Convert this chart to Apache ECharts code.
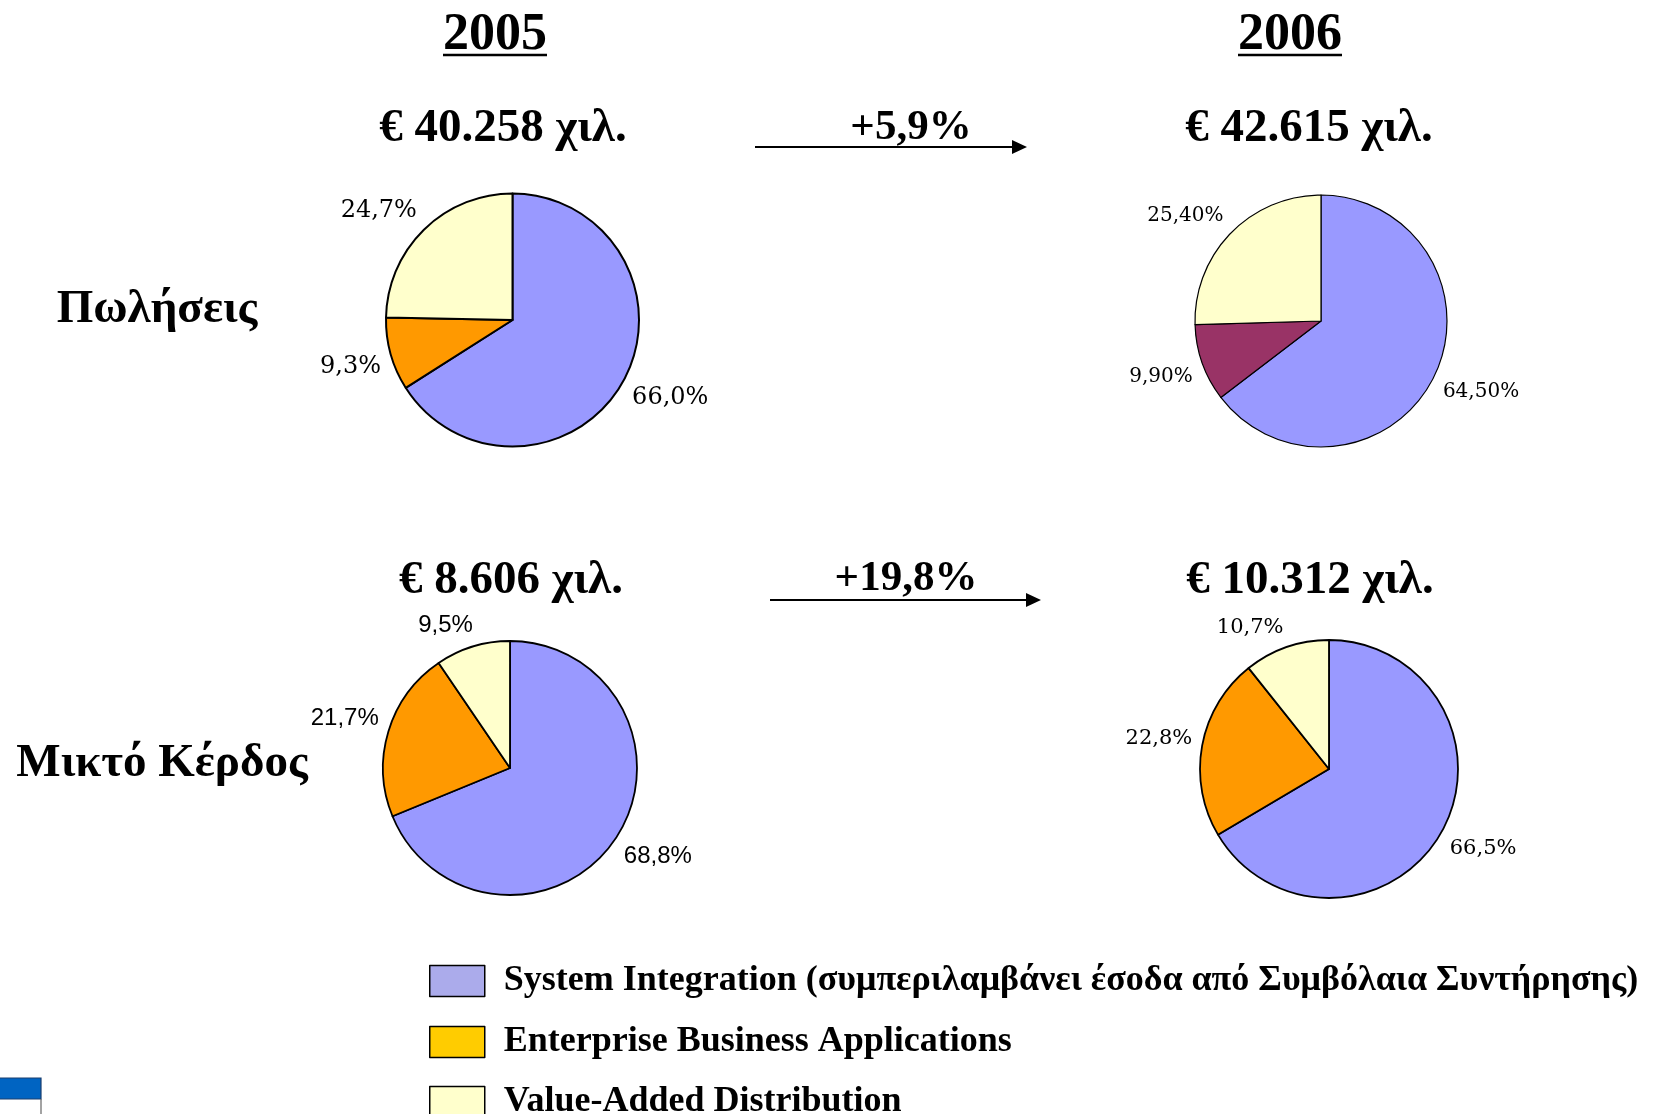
<!DOCTYPE html>
<html>
<head>
<meta charset="utf-8">
<script src="https://cdn.jsdelivr.net/npm/echarts@6/dist/echarts.min.js"></script>
<style>
html,body{margin:0;padding:0;background:#fff;}
#main{width:1679px;height:1114px;}
</style>
</head>
<body>
<div id="main"></div>
<script>
// ---------- data ----------
const categories = [
  'System Integration (συμπεριλαμβάνει έσοδα από Συμβόλαια Συντήρησης)',
  'Enterprise Business Applications',
  'Value-Added Distribution'
];
const sales2005 = [66.0, 9.3, 24.7];
const sales2006 = [64.5, 9.9, 25.4];
const profit2005 = [68.8, 21.7, 9.5];
const profit2006 = [66.5, 22.8, 10.7];
const years = ['2005', '2006'];
const rowLabels = ['Πωλήσεις', 'Μικτό Κέρδος'];
const salesTotals = ['€ 40.258 χιλ.', '€ 42.615 χιλ.'];
const profitTotals = ['€ 8.606 χιλ.', '€ 10.312 χιλ.'];
const growth = ['+5,9%', '+19,8%'];

// ---------- styles ----------
const SERIF = '"Liberation Serif","Times New Roman",serif';
const WIDE_SERIF = '"DejaVu Serif","Liberation Serif",serif';
const SANS = '"Liberation Sans",Arial,sans-serif';
const pieColors = ['#9999FF', '#FF9900', '#FFFFCC'];
const pieColors2006Sales = ['#9999FF', '#993366', '#FFFFCC'];
const legendColors = ['#ABABEB', '#FFCC00', '#FFFFCC'];

const pies = [
  {values: sales2005, colors: pieColors, center: [512.5, 320], r: 126.5, border: 2, dec: 1, font: WIDE_SERIF, size: 24},
  {values: sales2006, colors: pieColors2006Sales, center: [1321, 321], r: 126, border: 1.2, dec: 2, font: WIDE_SERIF, size: 20},
  {values: profit2005, colors: pieColors, center: [510, 768], r: 127, border: 1.8, dec: 1, font: SANS, size: 24},
  {values: profit2006, colors: pieColors, center: [1329, 769], r: 129, border: 1.8, dec: 1, font: WIDE_SERIF, size: 21}
];
const LABEL_GAP = 10;

function clamp(v) { return Math.max(-1, Math.min(1, v)); }

// place each label just outside the pie edge, along the slice's mid-angle
function makeLabelLayout(p) {
  return function (params) {
    const vals = p.values;
    const sum = vals.reduce(function (a, b) { return a + b; }, 0);
    let cum = 0;
    for (let i = 0; i < params.dataIndex; i++) cum += vals[i];
    const mid = (90 - 360 * (cum + vals[params.dataIndex] / 2) / sum) * Math.PI / 180;
    const R = p.r + LABEL_GAP;
    const c = Math.cos(mid), s = Math.sin(mid);
    const px = p.center[0] + R * c;
    const py = p.center[1] - R * s;
    const w = params.labelRect.width, h = params.labelRect.height;
    return {
      x: px + w / 2 * clamp(c * 3),
      y: py + h / 2 * clamp(-s * 3),
      align: 'center',
      verticalAlign: 'middle'
    };
  };
}

const series = pies.map(function (p) {
  return {
    type: 'pie',
    center: p.center,
    radius: [0, p.r],
    startAngle: 90,
    clockwise: true,
    silent: true,
    animation: false,
    avoidLabelOverlap: false,
    emphasis: {disabled: true},
    itemStyle: {borderColor: '#000', borderWidth: p.border},
    label: {
      show: true,
      position: 'outside',
      fontFamily: p.font,
      fontSize: p.size,
      color: '#000',
      formatter: function (d) { return d.value.toFixed(p.dec).replace('.', ',') + '%'; }
    },
    labelLine: {show: false},
    labelLayout: makeLabelLayout(p),
    data: categories.map(function (c, i) {
      return {name: c, value: p.values[i], itemStyle: {color: p.colors[i]}};
    })
  };
});

function txt(text, x, y, size, family, weight) {
  return {
    type: 'text', x: x, y: y, silent: true,
    style: {text: text, fontSize: size, fontFamily: family, fontWeight: weight || 'bold',
      fill: '#000', align: 'center', verticalAlign: 'middle'}
  };
}
function arrow(x1, x2, y) {
  return [
    {type: 'line', silent: true, shape: {x1: x1, y1: y, x2: x2 - 10, y2: y}, style: {stroke: '#000', lineWidth: 2}},
    {type: 'polygon', silent: true, shape: {points: [[x2, y], [x2 - 15, y - 7], [x2 - 15, y + 7]]}, style: {fill: '#000'}}
  ];
}

const graphics = [
  txt(years[0], 495, 36, 52, SERIF),
  txt(years[1], 1290, 36, 52, SERIF),
  {type: 'line', silent: true, shape: {x1: 443, y1: 55, x2: 547, y2: 55}, style: {stroke: '#000', lineWidth: 2.5}},
  {type: 'line', silent: true, shape: {x1: 1238, y1: 55, x2: 1342, y2: 55}, style: {stroke: '#000', lineWidth: 2.5}},
  txt(salesTotals[0], 503, 129, 47, SERIF),
  txt(salesTotals[1], 1309, 129, 47, SERIF),
  txt(profitTotals[0], 511, 581, 47, SERIF),
  txt(profitTotals[1], 1310, 581, 47, SERIF),
  txt(growth[0], 911, 128, 43, SERIF),
  txt(growth[1], 906, 579, 43, SERIF),
  txt(rowLabels[0], 157, 310, 47, SERIF),
  txt(rowLabels[1], 162, 764, 47, SERIF),
  {type: 'rect', silent: true, shape: {x: -2, y: 1078, width: 43, height: 21}, style: {fill: '#0064C2', stroke: '#1A3E6E', lineWidth: 1.2}},
  {type: 'line', silent: true, shape: {x1: 41, y1: 1099, x2: 41, y2: 1114}, style: {stroke: '#666', lineWidth: 1.2}}
].concat(arrow(755, 1027, 147)).concat(arrow(770, 1041, 600));

const legendTops = [963, 1024, 1084];
const legends = categories.map(function (c, i) {
  return {
    orient: 'vertical',
    left: 429,
    top: legendTops[i],
    itemWidth: 55,
    itemHeight: 31,
    icon: 'rect',
    selectedMode: false,
    padding: 0,
    textStyle: {fontFamily: SERIF, fontSize: 36, fontWeight: 'bold', color: '#000', padding: [0, 0, 0, 14]},
    data: [{name: c, itemStyle: {color: legendColors[i], borderColor: '#000', borderWidth: 1.5}}]
  };
});

const option = {
  backgroundColor: '#fff',
  animation: false,
  legend: legends,
  graphic: graphics,
  series: series
};

const chart = echarts.init(document.getElementById('main'), null, {renderer: 'canvas'});
chart.setOption(option);
</script>
</body>
</html>
